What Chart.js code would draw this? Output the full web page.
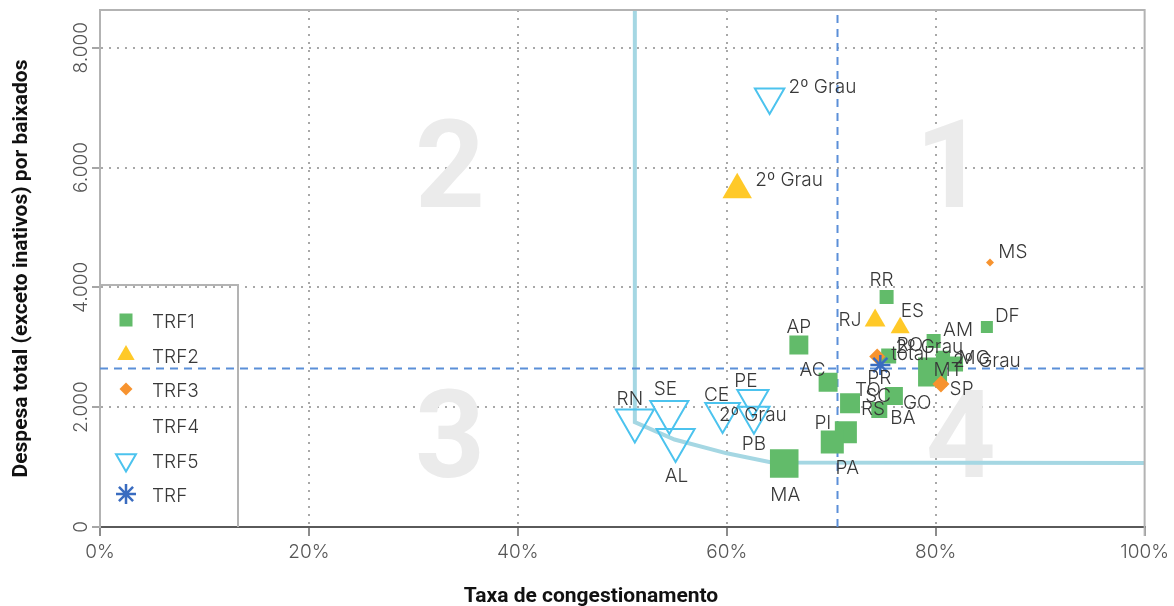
<!DOCTYPE html>
<html><head><meta charset="utf-8">
<script src="https://cdn.jsdelivr.net/npm/chart.js@4.4.1/dist/chart.umd.min.js"></script>
<style>html,body{margin:0;padding:0;background:#fff;}#wrap{width:1174px;height:606px;}</style>
</head><body><div id="wrap"><canvas id="c" width="1174" height="606"></canvas></div>
<script>
// ---------------- DATA ----------------
const xTicks = [0, 20, 40, 60, 80, 100];
const yTicks = [0, 2000, 4000, 6000, 8000];
const seriesNames = ['TRF1', 'TRF2', 'TRF3', 'TRF4', 'TRF5', 'TRF'];

const trf1Labels = ['RR','DF','AM','AP','AC','RO','MT','MG','2º Grau','TO','GO','BA','PI','PA','MA'];
const trf1X = [75.3, 84.9, 79.8, 66.9, 69.7, 75.5, 79.7, 81.9, 80.7, 71.8, 76.0, 74.6, 71.4, 70.1, 65.5];
const trf1Y = [3841, 3340, 3106, 3039, 2416, 2856, 2589, 2722, 2822, 2066, 2188, 1954, 1583, 1420, 1060];

const trf2Labels = ['2º Grau', 'RJ', 'ES'];
const trf2X = [61.0, 74.2, 76.6];
const trf2Y = [5628, 3449, 3328];

const trf3Labels = ['MS', 'SP', 'total'];
const trf3X = [85.2, 80.5, 74.4];
const trf3Y = [4414, 2388, 2844];

const trf4Labels = ['PR', 'SC', 'RS', '2º Grau', '2º Grau'];
const trf4X = [74.6, 74.5, 74.0, 62.5, 79.4];
const trf4Y = [2488, 2188, 1971, 1870, 3006];

const trf5Labels = ['RN', 'SE', 'AL', 'CE', 'PE', 'PB', '2º Grau'];
const trf5X = [51.2, 54.5, 55.1, 59.6, 62.5, 62.6, 64.1];
const trf5Y = [1779, 1921, 1453, 1904, 2138, 1857, 7176];

const trfLabels = [''];
const trfX = [74.7];
const trfY = [2705];

// frontier line
const frontierX = [51.2, 51.2, 55.0, 60.0, 64.3, 100];
const frontierY = [8630, 1750, 1460, 1230, 1078, 1070];
// reference (average) lines
const refX = 70.6;
const refY = 2645;

// quadrant markers
const quadText = ['1', '2', '3', '4'];
const quadX = [81.4, 33.5, 33.5, 82.4];
const quadY = [5845, 5845, 1336, 1336];

// ---------------- STYLE ----------------
const trf1Radius = [9.9, 8.5, 9.9, 13.4, 13.4, 10.6, 20.5, 10.6, 10, 14.1, 12.7, 11.3, 15.6, 16.3, 20.2];
const trf2Radius = [17, 12, 11];
const trf3Radius = [4, 8.5, 8];
const trf5Radius = [22, 22, 22, 20, 18, 18, 17];
// label offsets [dx, dy, align]
const off1 = [[-5,-16.5,'c'],[8,-11,'l'],[9.5,-11,'l'],[0,-17.5,'c'],[-15.5,-12,'c'],[8,-11,'l'],[1,-2,'l'],[3,-6,'l'],[10,3,'l'],[18,-12.6,'c'],[9,7,'l'],[11,8,'l'],[-23,-9,'c'],[15,26,'c'],[1,31.5,'c']];
const off2 = [[18,-10,'l'],[-13.7,0,'r'],[0.5,-16,'l']];
const off3 = [[8.3,-10,'l'],[8.7,5,'l'],[14,-2,'l']];
const off4 = [[0,0,'c'],[0,0,'c'],[0,0,'c'],[0,0,'c'],[0,0,'c']];
const off5 = [[-5,-21.5,'c'],[-4,-23,'c'],[1,36,'c'],[-6,-18,'c'],[-7,-18,'c'],[0,29,'c'],[19,-10,'l']];
const offT = [[0,0,'c']];

const GREEN = '#62bb6a', YELLOW = '#ffc928', ORANGE = '#f7932f', CYAN = '#4cc3ee', BLUE = '#3a6cc0';
const FONT = 'Roboto, "Liberation Sans", sans-serif';
const LFONT = 'Inter, Roboto, sans-serif';

const pts = (xs, ys) => xs.map((x, i) => ({x: x, y: ys[i]}));

const datasets = [
  {label: 'TRF1', data: pts(trf1X, trf1Y), pointStyle: 'rect', pointRadius: trf1Radius, backgroundColor: GREEN, borderWidth: 0, order: 5, _labels: trf1Labels, _off: off1},
  {label: 'TRF2', data: pts(trf2X, trf2Y), pointStyle: 'triangle', pointRadius: trf2Radius, backgroundColor: YELLOW, borderWidth: 0, order: 4, _labels: trf2Labels, _off: off2},
  {label: 'TRF3', data: pts(trf3X, trf3Y), pointStyle: 'rectRot', pointRadius: trf3Radius, backgroundColor: ORANGE, borderWidth: 0, order: 3, _labels: trf3Labels, _off: off3},
  {label: 'TRF4', data: pts(trf4X, trf4Y), pointRadius: 0, backgroundColor: 'rgba(0,0,0,0)', borderWidth: 0, order: 6, _labels: trf4Labels, _off: off4},
  {label: 'TRF5', data: pts(trf5X, trf5Y), pointStyle: 'triangle', rotation: 180, pointRadius: trf5Radius, backgroundColor: 'rgba(0,0,0,0)', borderColor: CYAN, borderWidth: 2, order: 2, _labels: trf5Labels, _off: off5},
  {label: 'TRF', data: pts(trfX, trfY), pointStyle: 'star', pointRadius: 10, backgroundColor: BLUE, borderColor: BLUE, borderWidth: 2.5, order: 1, _labels: trfLabels, _off: offT},
  {type: 'line', label: '_frontier', data: pts(frontierX, frontierY), borderColor: '#a5d7e3', borderWidth: 4, pointRadius: 0, tension: 0, fill: false, order: 9},
  {type: 'line', label: '_refV', data: [{x: refX, y: 0}, {x: refX, y: 8630}], borderColor: '#5b8fd8', borderWidth: 2, borderDash: [8, 6], pointRadius: 0, fill: false, order: 8},
  {type: 'line', label: '_refH', data: [{x: 0, y: refY}, {x: 100, y: refY}], borderColor: '#5b8fd8', borderWidth: 2, borderDash: [8, 6], pointRadius: 0, fill: false, order: 8}
];

const legendStyles = [
  {pointStyle: 'rect', radius: 9.2, fill: GREEN, stroke: null, lw: 0, rot: 0},
  {pointStyle: 'triangle', radius: 10, fill: YELLOW, stroke: null, lw: 0, rot: 0},
  {pointStyle: 'rectRot', radius: 6.5, fill: ORANGE, stroke: null, lw: 0, rot: 0},
  null,
  {pointStyle: 'triangle', radius: 11.5, fill: 'rgba(0,0,0,0)', stroke: CYAN, lw: 2, rot: 180},
  {pointStyle: 'star', radius: 10, fill: BLUE, stroke: BLUE, lw: 2.5, rot: 0}
];

const decorPlugin = {
  id: 'decor',
  beforeDatasetsDraw(chart) {
    const {ctx, scales: {x, y}} = chart;
    ctx.save();
    ctx.fillStyle = '#ebebeb';
    ctx.font = 'bold 122px ' + FONT;
    ctx.textAlign = 'center';
    ctx.textBaseline = 'middle';
    quadText.forEach((t, i) => ctx.fillText(t, x.getPixelForValue(quadX[i]), y.getPixelForValue(quadY[i])));
    ctx.restore();
  },
  afterDatasetsDraw(chart) {
    const {ctx, chartArea: ca, scales: {x, y}} = chart;
    ctx.save();
    // point labels
    ctx.font = '300 19px ' + LFONT;
    ctx.fillStyle = '#383838';
    ctx.textBaseline = 'middle';
    chart.data.datasets.forEach((ds, di) => {
      if (!ds._labels) return;
      const meta = chart.getDatasetMeta(di);
      meta.data.forEach((el, i) => {
        const t = ds._labels[i];
        if (!t) return;
        const o = ds._off[i];
        ctx.textAlign = o[2] === 'l' ? 'left' : (o[2] === 'r' ? 'right' : 'center');
        ctx.fillText(t, el.x + o[0], el.y + o[1]);
      });
    });
    // top & right frame
    ctx.strokeStyle = '#b3b3b3';
    ctx.lineWidth = 2;
    ctx.beginPath();
    ctx.moveTo(ca.left - 1, ca.top);
    ctx.lineTo(ca.right, ca.top);
    ctx.lineTo(ca.right, ca.bottom + 9);
    ctx.stroke();
    // legend box
    const lx2 = 238, ly1 = 285;
    ctx.beginPath();
    ctx.moveTo(ca.left, ly1);
    ctx.lineTo(lx2, ly1);
    ctx.lineTo(lx2, ca.bottom);
    ctx.stroke();
    const rows = [320, 355, 389, 425, 460, 494];
    seriesNames.forEach((n, i) => {
      const s = legendStyles[i];
      if (s) {
        ctx.save();
        ctx.fillStyle = s.fill;
        ctx.strokeStyle = s.stroke || s.fill;
        ctx.lineWidth = s.lw;
        Chart.helpers.drawPoint(ctx, {pointStyle: s.pointStyle, radius: s.radius, rotation: s.rot, borderWidth: s.lw}, 126, rows[i]);
        ctx.restore();
      }
      ctx.font = '300 19px ' + LFONT;
      ctx.fillStyle = '#383838';
      ctx.textAlign = 'left';
      ctx.textBaseline = 'middle';
      ctx.fillText(n, 152, rows[i] + 2);
    });
    // y tick labels (rotated)
    ctx.fillStyle = '#555';
    ctx.font = '300 19px ' + LFONT;
    ctx.textAlign = 'center';
    ctx.textBaseline = 'middle';
    yTicks.forEach(v => {
      ctx.save();
      ctx.translate(81, y.getPixelForValue(v));
      ctx.rotate(-Math.PI / 2);
      ctx.fillText(v === 0 ? '0' : v.toLocaleString('de-DE'), 0, 0);
      ctx.restore();
    });
    // axis titles
    ctx.fillStyle = '#111';
    ctx.font = 'bold 21px ' + FONT;
    ctx.textAlign = 'center';
    ctx.textBaseline = 'middle';
    ctx.fillText('Taxa de congestionamento', 591, 597);
    ctx.save();
    ctx.translate(22, (ca.top + ca.bottom) / 2);
    ctx.rotate(-Math.PI / 2);
    ctx.fillText('Despesa total (exceto inativos) por baixados', 0, 0);
    ctx.restore();
    ctx.restore();
  }
};

new Chart(document.getElementById('c'), {
  type: 'scatter',
  data: {datasets: datasets},
  plugins: [decorPlugin],
  options: {
    responsive: false,
    devicePixelRatio: 1,
    animation: false,
    events: [],
    layout: {autoPadding: false, padding: {left: 0, top: 10, right: 27, bottom: 0}},
    plugins: {legend: {display: false}, tooltip: {enabled: false}},
    scales: {
      x: {
        type: 'linear', min: 0, max: 100,
        afterFit: s => { s.height = 79; },
        afterBuildTicks: s => { s.ticks = xTicks.map(v => ({value: v})); },
        ticks: {callback: v => v + '%', color: '#555', font: {family: LFONT, size: 19, weight: '300'}, padding: 5, maxRotation: 0},
        grid: {color: c => (c.tick && (c.tick.value === 0 || c.tick.value === 100)) ? 'rgba(0,0,0,0)' : '#a8a8a8', lineWidth: 2, tickColor: '#666', tickLength: 9, tickWidth: 1.5},
        border: {color: '#5a5a5a', width: 2, dash: [2, 6]}
      },
      y: {
        type: 'linear', min: 0, max: 8630,
        afterFit: s => { s.width = 100; },
        afterBuildTicks: s => { s.ticks = yTicks.map(v => ({value: v})); },
        ticks: {display: false},
        grid: {color: c => (c.tick && c.tick.value === 0) ? 'rgba(0,0,0,0)' : '#a8a8a8', lineWidth: 2, tickColor: '#888', tickLength: 8, tickWidth: 1.5},
        border: {color: '#b3b3b3', width: 2, dash: [2, 6]}
      }
    }
  }
});
</script></body></html>
